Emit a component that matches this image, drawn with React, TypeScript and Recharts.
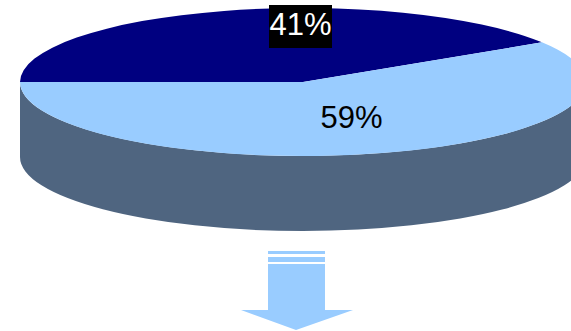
import { PieChart, Pie, Cell, Sector } from "recharts"

const sliceNames = ["Navy share", "Light share"]
const sliceValues = [41, 59]
const sliceColors = ["#000080", "#99ccff"]
const wallColor = "#4f6580"

const data = sliceNames.map((name, i) => ({ name, value: sliceValues[i] }))

const WIDTH = 571
const HEIGHT = 331
const CX = 303
const CY = 82
const RX = 283
const RY = 74
const DEPTH = 75
const SQUASH = RY / RX

// top face: a normal sector flattened into an ellipse around the pie centre
const TopSlice = (props: any) => (
  <g transform={`translate(0 ${props.cy}) scale(1 ${SQUASH}) translate(0 ${-props.cy})`}>
    <Sector {...props} stroke="none" />
  </g>
)

// side wall: only the part of a slice that faces the viewer gets extruded
const WallSlice = (props: any) => {
  const { cx, cy, startAngle, endAngle } = props
  const from = Math.min(startAngle, 0)
  const to = Math.max(endAngle, -180)
  if (from <= to) return null
  const px = (a: number) => cx + RX * Math.cos((a * Math.PI) / 180)
  const py = (a: number) => cy - RY * Math.sin((a * Math.PI) / 180)
  const d = [
    `M${px(from)} ${py(from)}`,
    `A${RX} ${RY} 0 0 1 ${px(to)} ${py(to)}`,
    `L${px(to)} ${py(to) + DEPTH}`,
    `A${RX} ${RY} 0 0 0 ${px(from)} ${py(from) + DEPTH}`,
    "Z",
  ].join(" ")
  return <path d={d} fill={wallColor} />
}

const renderLabel = ({ index, value }: any) => {
  const text = `${value}%`
  if (index === 0) {
    return (
      <g key="label-0">
        <rect x={269} y={5} width={63} height={43} fill="#000" />
        <text x={300.5} y={35} textAnchor="middle" fontSize={31} fill="#fff" fontFamily="Liberation Sans">
          {text}
        </text>
      </g>
    )
  }
  return (
    <text key="label-1" x={351.5} y={128} textAnchor="middle" fontSize={31} fill="#000" fontFamily="Liberation Sans">
      {text}
    </text>
  )
}

export default function App() {
  return (
    <div style={{ position: "absolute", left: 0, top: 0, width: WIDTH, height: HEIGHT, background: "#fff", overflow: "hidden" }}>
      <PieChart width={WIDTH} height={HEIGHT} margin={{ top: 0, right: 0, bottom: 0, left: 0 }}>
        <Pie
          data={data}
          dataKey="value"
          nameKey="name"
          cx={CX}
          cy={CY}
          outerRadius={RX}
          startAngle={180}
          endAngle={-180}
          stroke="none"
          shape={WallSlice}
          isAnimationActive={false}
        />
        <Pie
          data={data}
          dataKey="value"
          nameKey="name"
          cx={CX}
          cy={CY}
          outerRadius={RX}
          startAngle={180}
          endAngle={-180}
          stroke="none"
          shape={TopSlice}
          label={renderLabel}
          labelLine={false}
          isAnimationActive={false}
        >
          {data.map((entry, i) => (
            <Cell key={entry.name} fill={sliceColors[i]} />
          ))}
        </Pie>
        {/* down arrow under the pie */}
        <g fill="#99ccff">
          <rect x={268} y={251} width={57} height={3} />
          <rect x={268} y={257} width={57} height={5} />
          <polygon points="268,264 325,264 325,310 353,310 296,330 241,310 268,310" />
        </g>
      </PieChart>
    </div>
  )
}
